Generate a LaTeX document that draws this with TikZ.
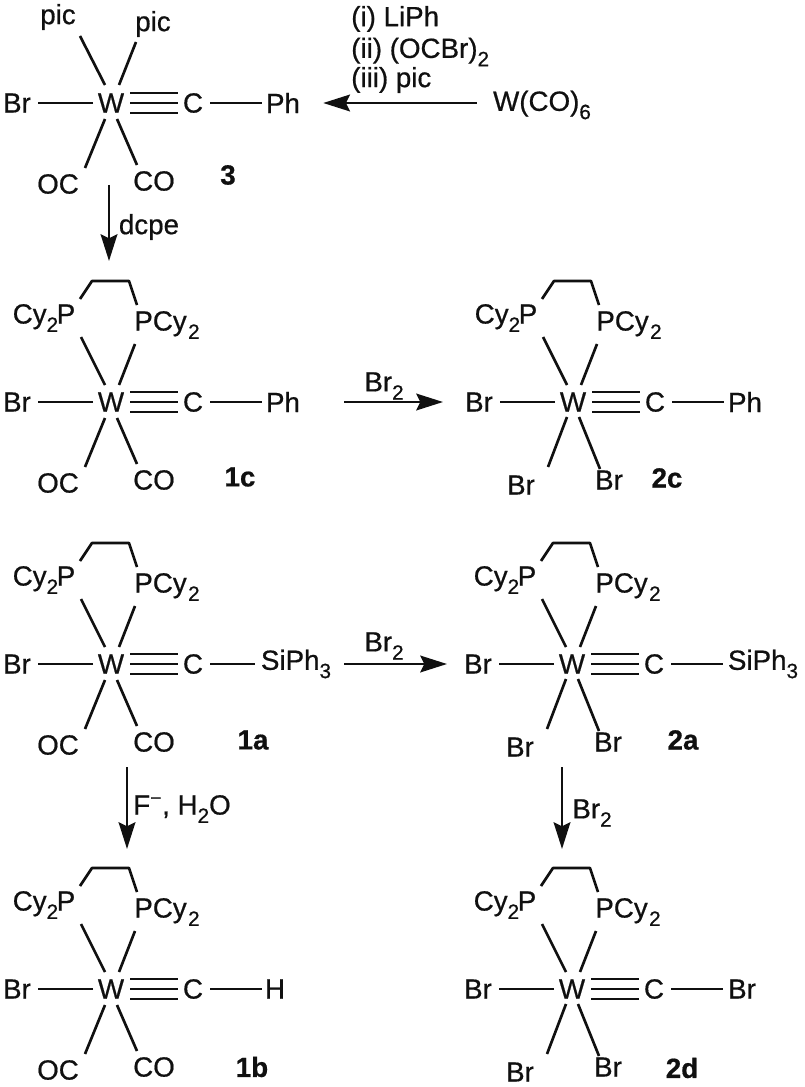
\documentclass[tikz,border=0pt]{standalone}
\usepackage{fontspec}
\setmainfont{Liberation Sans}[RawFeature={embolden=0.6}]
\usetikzlibrary{arrows.meta}
\definecolor{ink}{HTML}{101010}
\newcommand{\sbs}[1]{\raisebox{-0.3em}{\fontsize{15.5}{15.5}\selectfont #1}}
\tikzset{
  atom/.style={inner sep=0pt,text=ink,font=\fontsize{20.8}{24}\selectfont,anchor=center},
  label/.style={atom},
  compd/.style={atom,font=\fontsize{20.8}{24}\selectfont\bfseries},
  bond/.style={draw=ink,line width=2pt},
  tbond/.style={draw=ink,line width=2.2pt},
  rxn/.style={draw=ink,line width=2.1pt,-{Stealth[length=20pt,width=12.5pt,inset=3pt]}}
}
% #1 name, #2 x, #3 y, #4 terminal text, #5 terminal centre dx, #6 bond end dx from C
\newcommand{\Core}[6]{%
  \begin{scope}[shift={(#2,#3)}]
    \node[atom] (#1-W) at (0,0) {W};
    \node[atom] (#1-Br) at (-94,0) {Br};
    \node[atom] (#1-C) at (82,0) {C};
    \node[atom] (#1-T) at (#5,0) {#4};
  \end{scope}
  \draw[bond] ([shift={(-18,0)}]#1-W.center) -- ([shift={(21,0)}]#1-Br.center);
  \draw[tbond] ([shift={(19,-10)}]#1-W.center) -- ([shift={(-15,-10)}]#1-C.center);
  \draw[tbond] ([shift={(19,0)}]#1-W.center) -- ([shift={(-15,0)}]#1-C.center);
  \draw[tbond] ([shift={(19,10)}]#1-W.center) -- ([shift={(-15,10)}]#1-C.center);
  \draw[bond] ([shift={(17,0)}]#1-C.center) -- ([shift={(#6,0)}]#1-C.center);
}
\newcommand{\TopPic}[1]{%
  \node[atom] (#1-UL) at ([shift={(-53,-86)}]#1-W.center) {pic};
  \node[atom] (#1-UR) at ([shift={(42,-79)}]#1-W.center) {pic};
  \draw[bond] ([shift={(-6,-18)}]#1-W.center) -- ([shift={(22,19)}]#1-UL.center);
  \draw[bond] ([shift={(8,-18)}]#1-W.center) -- ([shift={(-17,18)}]#1-UR.center);
}
\newcommand{\TopDcpe}[1]{%
  \node[atom] (#1-UL) at ([shift={(-67,-84)}]#1-W.center) {Cy\sbs{2}\hspace{-0.05em}P};
  \node[atom] (#1-UR) at ([shift={(56,-77)}]#1-W.center) {PCy\hspace{0.05em}\sbs{2}};
  \coordinate (#1-ch1) at ([shift={(-19,-121)}]#1-W.center);
  \coordinate (#1-ch2) at ([shift={(18,-121)}]#1-W.center);
  \draw[bond,line join=round] ([shift={(36,-19)}]#1-UL.center) -- (#1-ch1) -- (#1-ch2) -- ([shift={(-30,-20)}]#1-UR.center);
  \draw[bond] ([shift={(-6,-17)}]#1-W.center) -- ([shift={(37,19)}]#1-UL.center);
  \draw[bond] ([shift={(8,-17)}]#1-W.center) -- ([shift={(-32,19)}]#1-UR.center);
}
\newcommand{\BotCO}[1]{%
  \node[atom] (#1-DL) at ([shift={(-53,81)}]#1-W.center) {OC};
  \node[atom] (#1-DR) at ([shift={(43,78)}]#1-W.center) {CO};
  \draw[bond] ([shift={(-6,16)}]#1-W.center) -- ([shift={(27,-16)}]#1-DL.center);
  \draw[bond] ([shift={(6,16)}]#1-W.center) -- ([shift={(-17,-16)}]#1-DR.center);
}
\newcommand{\BotBr}[1]{%
  \node[atom] (#1-DL) at ([shift={(-52,83)}]#1-W.center) {Br};
  \node[atom] (#1-DR) at ([shift={(36,78)}]#1-W.center) {Br};
  \draw[bond] ([shift={(-6,15)}]#1-W.center) -- ([shift={(27,-18)}]#1-DL.center);
  \draw[bond] ([shift={(6,15)}]#1-W.center) -- ([shift={(-9,-11)}]#1-DR.center);
}
\begin{document}
\begin{tikzpicture}[x=0.75pt,y=-0.75pt]
\useasboundingbox (0,0) rectangle (804,1087);
\fill[white] (0,0) rectangle (804,1087);
% compound 3
\Core{m3}{111}{103}{Ph}{172}{69}
\TopPic{m3}\BotCO{m3}
\node[compd] (n3) at (228,175) {3};
\node[atom] (wco) at (542,105) {W(CO)\sbs{6}};
\node[label,anchor=west] (r1) at (351,19) {(i) LiPh};
\node[label,anchor=west] (r2) at (351,52) {(ii) (OCBr)\sbs{2}};
\node[label,anchor=west] (r3) at (351,80) {(iii) pic};
\draw[rxn] ([shift={(-16,-2)}]wco.west) -- ([shift={(23,0)}]m3-T.east);
% compound 1c
\Core{m1c}{111}{402}{Ph}{172}{69}
\TopDcpe{m1c}\BotCO{m1c}
\node[compd] (n1c) at (240,477) {1c};
% compound 2c
\Core{m2c}{573}{402}{Ph}{172}{69}
\TopDcpe{m2c}\BotBr{m2c}
\node[compd] (n2c) at (667,478) {2c};
% compound 1a
\Core{m1a}{111}{664}{SiPh\sbs{3}}{185}{62}
\TopDcpe{m1a}\BotCO{m1a}
\node[compd] (n1a) at (253,740) {1a};
% compound 2a
\Core{m2a}{572}{664}{SiPh\sbs{3}}{191}{69}
\TopDcpe{m2a}\BotBr{m2a}
\node[compd] (n2a) at (683,740) {2a};
% compound 1b
\Core{m1b}{111}{989}{H}{164}{69}
\TopDcpe{m1b}\BotCO{m1b}
\node[compd] (n1b) at (252,1067) {1b};
% compound 2d
\Core{m2d}{572}{989}{Br}{170}{69}
\TopDcpe{m2d}\BotBr{m2d}
\node[compd] (n2d) at (682,1068) {2d};
% arrows
\coordinate (a1s) at (109,185); \coordinate (a1e) at (109,261);
\draw[rxn] (a1s) -- (a1e);
\node[label] (l1) at (149,227) {dcpe};
\coordinate (a2s) at (344,402); \coordinate (a2e) at (443,402);
\draw[rxn] (a2s) -- (a2e);
\node[label] (l2) at (384,386) {Br\sbs{2}};
\coordinate (a3s) at (344,664); \coordinate (a3e) at (447,664);
\draw[rxn] (a3s) -- (a3e);
\node[label] (l3) at (384,646) {Br\sbs{2}};
\coordinate (a4s) at (127,767); \coordinate (a4e) at (127,849);
\draw[rxn] (a4s) -- (a4e);
\node[label,anchor=west] (l4) at (133,809) {F\textsuperscript{−}, H\sbs{2}O};
\coordinate (a5s) at (562,767); \coordinate (a5e) at (562,849);
\draw[rxn] (a5s) -- (a5e);
\node[label] (l5) at (592,813) {Br\sbs{2}};
\end{tikzpicture}
\end{document}
